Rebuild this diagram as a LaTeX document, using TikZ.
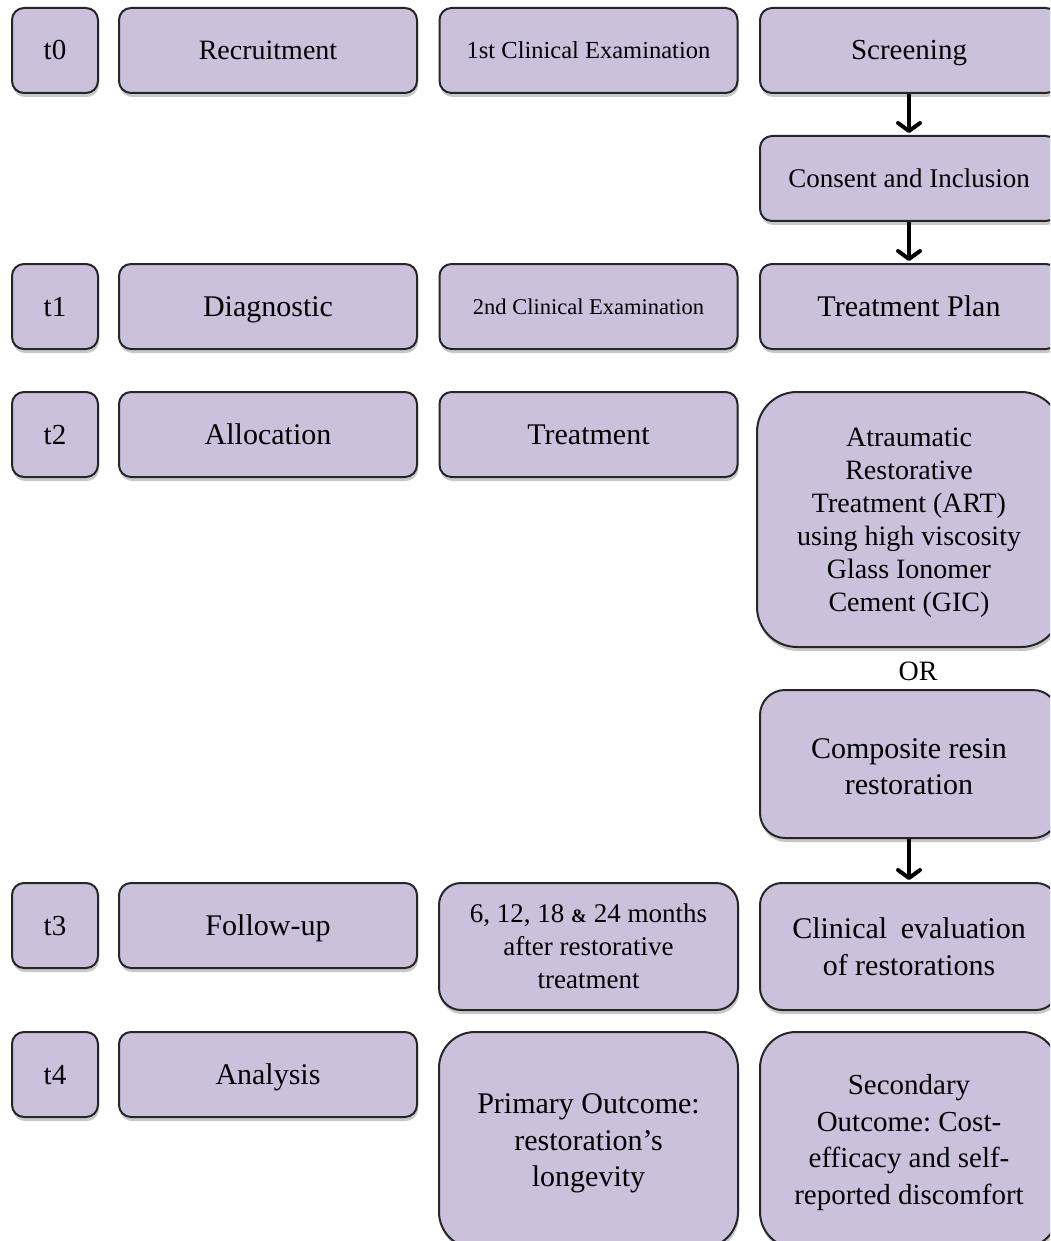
\documentclass[tikz,border=0pt]{standalone}
\usepackage{fontspec}
\setmainfont{Liberation Serif}
\frenchspacing
\usetikzlibrary{shadows,arrows.meta}
\definecolor{boxfill}{HTML}{CBC1DC}
\definecolor{boxline}{HTML}{262626}
\tikzset{
  box/.style={draw=boxline, line width=2pt, fill=boxfill, rounded corners=12pt,
    inner sep=0pt, align=center, text=black,
    drop shadow={opacity=0.3, shadow xshift=1pt, shadow yshift=-4pt, fill=black!70}},
  capc/.style={text height=#1, text depth=0pt},
  tbox/.style={box, capc=19pt, minimum width=86pt, minimum height=85pt, font=\fontsize{29}{33}\selectfont},
  wbox/.style={box, capc=19pt, minimum width=298pt, minimum height=85pt},
  big/.style={font=\fontsize{30}{36.5}\selectfont},
  mid/.style={font=\fontsize{28}{33}\selectfont},
  flowarrow/.style={line width=4pt, black,
    -{Straight Barb[length=8pt, width=22pt, line cap=round, line join=round]}}
}
\begin{document}
\begin{tikzpicture}[x=1pt,y=-1pt]
\path[use as bounding box] (0,0) rectangle (1050,1241);
\fill[white] (0,0) rectangle (1050,1241);
\clip (0,0) rectangle (1050,1241);

% row t0
\node[tbox] (t0) at (55,50.5) {t0};
\node[wbox, mid] (recr) at (268,50.5) {Recruitment};
\node[wbox, capc=16pt, font=\fontsize{24.5}{29}\selectfont] (exam1) at (588.5,50.5) {1st Clinical Examination};
\node[wbox, font=\fontsize{29}{34}\selectfont] (screen) at (909,50.5) {Screening};
\node[wbox, capc=18pt, font=\fontsize{27}{32}\selectfont] (consent) at (909,178.5) {Consent and Inclusion};

% row t1
\node[tbox] (t1) at (55,306.5) {t1};
\node[wbox, capc=20pt, big] (diag) at (268,306.5) {Diagnostic};
\node[wbox, capc=15pt, font=\fontsize{22.5}{27}\selectfont] (exam2) at (588.5,306.5) {2nd Clinical Examination};
\node[wbox, capc=20pt, big] (plan) at (909,306.5) {Treatment Plan};

% row t2
\node[tbox] (t2) at (55,434.5) {t2};
\node[wbox, capc=20pt, big] (alloc) at (268,434.5) {Allocation};
\node[wbox, capc=20pt, big] (treat) at (588.5,434.5) {Treatment};
\node[box, mid, minimum width=304pt, minimum height=255pt, rounded corners=40pt] (art) at (909,519.5)
  {\rule{0pt}{25pt}Atraumatic\\Restorative\\Treatment (ART)\\using high viscosity\\Glass Ionomer\\Cement (GIC)};
\node[mid, inner sep=0pt] (or) at (918,671) {OR};
\node[box, big, minimum width=298pt, minimum height=148pt, rounded corners=25pt] (comp) at (909,764)
  {\rule{0pt}{25pt}Composite resin\\restoration};

% row t3
\node[tbox] (t3) at (55,925.5) {t3};
\node[wbox, capc=20pt, big] (follow) at (268,925.5) {Follow-up};
\node[box, font=\fontsize{27}{33}\selectfont, minimum width=299pt, minimum height=127pt, rounded corners=22pt] (months) at (588.5,946.5)
  {6, 12, 18 {\fontsize{19}{19}\selectfont\textbf{\&}} 24 months\\after restorative\\treatment};
\node[box, big, minimum width=298pt, minimum height=127pt, rounded corners=22pt] (clin) at (909,946.5)
  {Clinical\hspace{0.45em}evaluation\\of restorations};

% row t4
\node[tbox] (t4) at (55,1074.5) {t4};
\node[wbox, capc=20pt, big] (anal) at (268,1074.5) {Analysis};
\node[box, big, minimum width=299pt, minimum height=216pt, rounded corners=36pt] (prim) at (588.5,1140)
  {\rule{0pt}{27pt}Primary Outcome:\\restoration’s\\longevity};
\node[box, font=\fontsize{29}{36.5}\selectfont, minimum width=298pt, minimum height=216pt, rounded corners=36pt] (sec) at (909,1140)
  {\rule{0pt}{25pt}Secondary\\Outcome: Cost-\\efficacy and self-\\reported discomfort};

% arrows
\draw[flowarrow] (screen.south) -- ([yshift=2pt]consent.north);
\draw[flowarrow] (consent.south) -- ([yshift=2pt]plan.north);
\draw[flowarrow] (comp.south) -- ([yshift=2pt]clin.north);
\end{tikzpicture}
\end{document}
